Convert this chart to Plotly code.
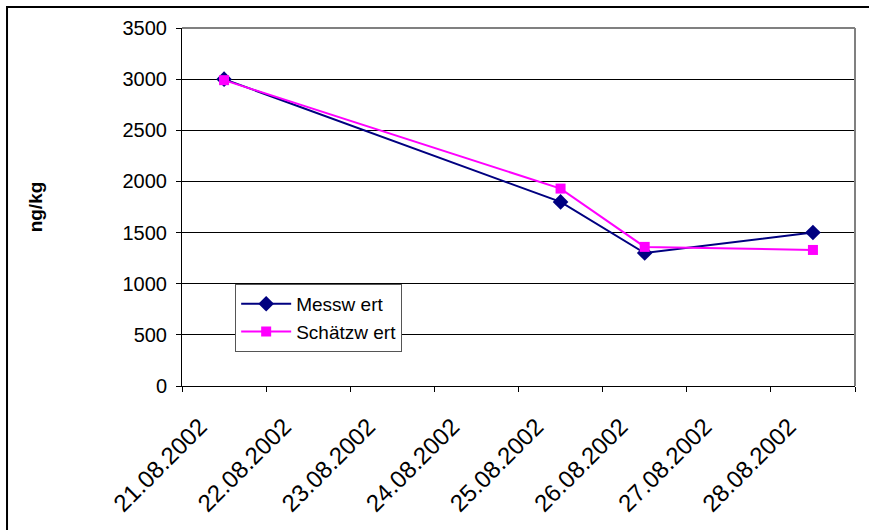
import plotly.graph_objects as go
import pandas as pd

# Data
dates = ["2002-08-21", "2002-08-25", "2002-08-26", "2002-08-28"]
messwert = [3000, 1800, 1300, 1500]
schaetzwert = [2990, 1930, 1360, 1330]
tick_dates = ["2002-08-21", "2002-08-22", "2002-08-23", "2002-08-24",
              "2002-08-25", "2002-08-26", "2002-08-27", "2002-08-28", "2002-08-29"]
tick_labels = ["21.08.2002", "22.08.2002", "23.08.2002", "24.08.2002",
               "25.08.2002", "26.08.2002", "27.08.2002", "28.08.2002", ""]
y_ticks = [0, 500, 1000, 1500, 2000, 2500, 3000, 3500]

x = pd.to_datetime(dates) + pd.Timedelta(hours=12)

FONT = "Arial, Liberation Sans, sans-serif"

fig = go.Figure()
fig.add_trace(go.Scatter(
    x=x, y=messwert, name="Messw ert", mode="lines+markers",
    line=dict(color="#000080", width=2),
    marker=dict(symbol="diamond", size=12, color="#000080"),
))
fig.add_trace(go.Scatter(
    x=x, y=schaetzwert, name="Schätzw ert", mode="lines+markers",
    line=dict(color="#FF00FF", width=2),
    marker=dict(symbol="square", size=10, color="#FF00FF"),
))

fig.update_layout(
    width=869, height=530,
    margin=dict(l=182, r=14, t=28, b=144, autoexpand=False),
    paper_bgcolor="white", plot_bgcolor="white",
    font=dict(family=FONT, size=19, color="black"),
    showlegend=True,
    legend=dict(
        x=0.079, y=0.285, xanchor="left", yanchor="top",
        bgcolor="white", bordercolor="#555555", borderwidth=1,
        font=dict(family=FONT, size=19, color="black"),
        tracegroupgap=0, itemwidth=50,
    ),
    xaxis=dict(
        type="date", automargin=False,
        range=[tick_dates[0], tick_dates[-1]],
        tickmode="array", tickvals=tick_dates, ticktext=tick_labels,
        tickangle=-45,
        ticks="outside", ticklen=5, tickcolor="black", tickwidth=1,
        showline=True, linecolor="black", linewidth=1,
        showgrid=False, zeroline=False,
        tickfont=dict(family=FONT, size=24, color="black"),
        ticklabelshift=18, ticklabelstandoff=11,
    ),
    yaxis=dict(
        range=[0, 3500], automargin=False,
        tickmode="array", tickvals=y_ticks,
        ticks="outside", ticklen=5, tickcolor="black", tickwidth=1,
        showline=True, linecolor="black", linewidth=1,
        showgrid=True, gridcolor="black", gridwidth=1,
        zeroline=False,
        tickfont=dict(family=FONT, size=20, color="black"),
        ticklabelstandoff=5,
        title=dict(text="<b>ng/kg</b>", font=dict(family=FONT, size=19, color="black"), standoff=74),
    ),
    shapes=[
        dict(type="line", xref="x domain", yref="y domain", x0=0, x1=1, y0=1, y1=1,
             line=dict(color="#808080", width=2), layer="above"),
        dict(type="line", xref="x domain", yref="y domain", x0=1, x1=1, y0=0, y1=1,
             line=dict(color="#808080", width=2), layer="above"),
        dict(type="rect", xref="paper", yref="paper", x0=-0.26, x1=1.04, y0=-0.45, y1=1.0587,
             line=dict(color="black", width=2), layer="above"),
    ],
)

fig.write_html("out.html", config={"displayModeBar": False},
               post_script="document.body.style.margin='0';")
